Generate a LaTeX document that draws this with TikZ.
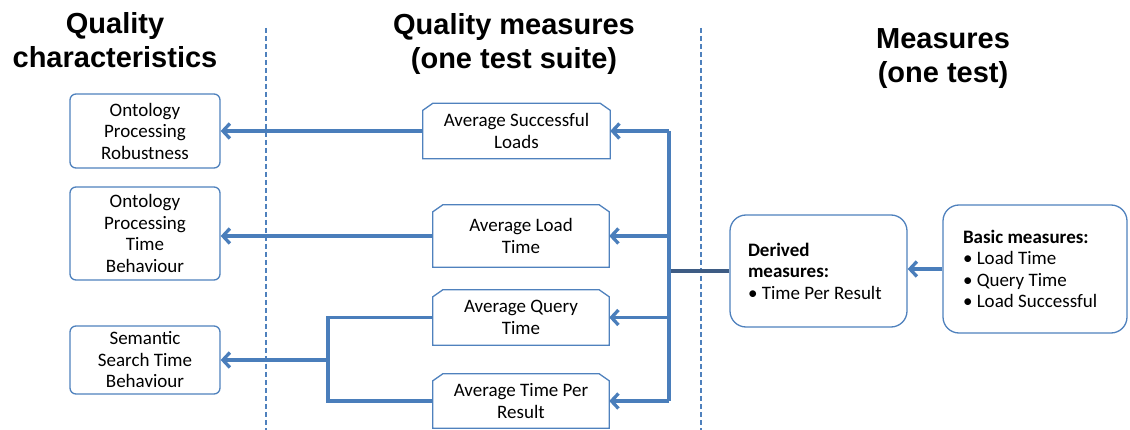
\documentclass[tikz,border=0pt]{standalone}
\usepackage{fontspec}
\setmainfont{Carlito}
\newfontfamily\hdfont{Liberation Sans}
\usetikzlibrary{arrows.meta}

\definecolor{boxblue}{RGB}{79,129,189}
\definecolor{linkblue}{RGB}{74,126,187}
\definecolor{feedblue}{RGB}{62,92,132}

\newcommand\boxfont{\fontsize{19}{21.5}\selectfont}

\tikzset{
  qbox/.style={draw=boxblue, line width=1.3pt, rounded corners=6pt, align=center,
               inner sep=0pt, font=\boxfont},
  mbox/.style={align=center, inner sep=0pt, font=\boxfont},
  mline/.style={draw=boxblue, line width=1.3pt},
  rbox/.style={draw=boxblue, line width=1.3pt, rounded corners=16pt, align=flush left,
               inner ysep=0pt, font=\boxfont},
  conn/.style={draw=linkblue, line width=3.3pt},
  arr/.style={conn, -{Straight Barb[length=7pt,width=15pt]}},
  feed/.style={draw=feedblue, line width=3.6pt},
  sep/.style={draw=boxblue, line width=1.2pt, dash pattern=on 5pt off 3pt},
  head/.style={font=\hdfont\bfseries\fontsize{29}{34}\selectfont, align=center, inner sep=0pt}
}

\begin{document}
\begin{tikzpicture}[x=1pt, y=-1pt]
\useasboundingbox (0,0) rectangle (1130,430);

% column headings
\node[head] (h1) at (115,40) {Quality\\characteristics};
\node[head] (h2) at (514,44) {Quality measures\\(one test suite)};
\node[head] (h3) at (943,59) {Measures\\(one test)};

% column separators
\draw[sep] (266,28) -- (266,430);
\draw[sep] (701,28) -- (701,430);

% quality characteristics
\node[qbox, minimum width=150pt, minimum height=74pt] (q1) at (145,131)
  {Ontology\\Processing\\Robustness};
\node[qbox, minimum width=150pt, minimum height=93pt] (q2) at (145,233.5)
  {Ontology\\Processing\\Time\\Behaviour};
\node[qbox, minimum width=150pt, minimum height=68pt] (q3) at (145,360)
  {Semantic\\Search Time\\Behaviour};

% quality measures (snipped top corners)
\node[mbox, minimum width=187pt, minimum height=55pt] (m1) at (516.5,131)
  {Average Successful\\Loads};
\node[mbox, minimum width=176pt, minimum height=62pt] (m2) at (521,236)
  {Average Load\\Time};
\node[mbox, minimum width=176pt, minimum height=55pt] (m3) at (521,317.5)
  {Average Query\\Time};
\node[mbox, minimum width=176pt, minimum height=54pt] (m4) at (521,401)
  {Average Time Per\\Result};
\foreach \n in {m1,m2,m3,m4}
  \draw[mline] (\n.south west) -- ([yshift=-7pt]\n.north west)
    -- ([xshift=10pt]\n.north west) -- ([xshift=-10pt]\n.north east)
    -- ([yshift=-7pt]\n.north east) -- (\n.south east) -- cycle;

% measures of one test
\node[rbox, text width=141pt, inner xsep=18pt, minimum height=112pt] (derived) at (818.5,271)
  {\textbf{Derived}\\\textbf{measures:}\\• Time Per Result};
\node[rbox, text width=144pt, inner xsep=20pt, minimum height=128pt] (basic) at (1035,269)
  {\textbf{Basic measures:}\\• Load Time\\• Query Time\\• Load Successful};

% connectors
\draw[arr] (basic.west) -- (basic.west -| derived.east);
\coordinate (hub) at (669,271);
\draw[feed] (derived.west) -- (hub);
\draw[conn] (hub |- m1.east) -- (hub |- m4.east);
\foreach \n in {m1,m2,m3,m4}
  \draw[arr] (hub |- \n.east) -- (\n.east);

\draw[arr] (m1.west) -- (m1.west -| q1.east);
\draw[arr] (m2.west) -- (m2.west -| q2.east);
\coordinate (join) at (328,360);
\draw[conn] (m3.west) -| (join |- m4.west) -- (m4.west);
\draw[arr] (join) -- (join -| q3.east);
\end{tikzpicture}
\end{document}
